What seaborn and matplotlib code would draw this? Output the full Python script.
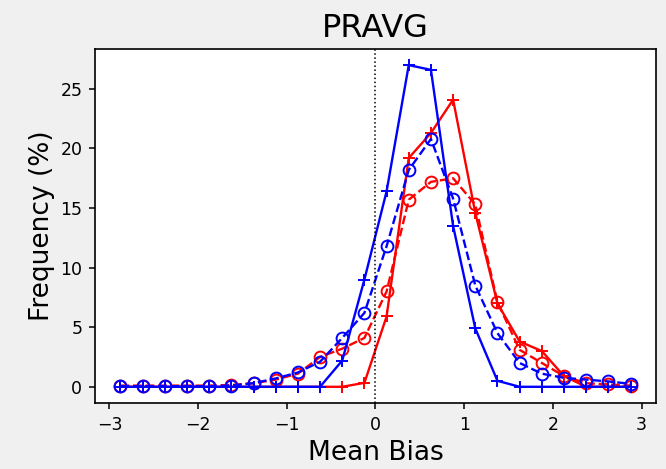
import numpy as np
import pandas as pd
import matplotlib
matplotlib.use('Agg')
import matplotlib.pyplot as plt
import seaborn as sns

# --- data ---
BIAS_BINS = [-2.875, -2.625, -2.375, -2.125, -1.875, -1.625, -1.375, -1.125,
             -0.875, -0.625, -0.375, -0.125, 0.125, 0.375, 0.625, 0.875,
             1.125, 1.375, 1.625, 1.875, 2.125, 2.375, 2.625, 2.875]

blue_solid = [0.0, 0.0, 0.0, 0.0, 0.0, 0.0, 0.0, 0.0,
              0.0, 0.0, 2.2, 9.0, 16.4, 27.0, 26.6, 13.5,
              4.9, 0.5, 0.0, 0.0, 0.0, 0.0, 0.0, 0.0]
blue_dashed = [0.05, 0.05, 0.05, 0.05, 0.05, 0.1, 0.3, 0.7,
               1.2, 2.1, 4.1, 6.2, 11.8, 18.2, 20.8, 15.8,
               8.5, 4.5, 2.0, 1.1, 0.75, 0.6, 0.45, 0.25]
red_solid = [0.0, 0.0, 0.0, 0.0, 0.0, 0.0, 0.0, 0.0,
             0.0, 0.0, 0.0, 0.33, 5.9, 19.2, 21.3, 24.1,
             14.6, 7.0, 3.8, 3.0, 0.9, 0.0, 0.0, 0.0]
red_dashed = [0.1, 0.1, 0.1, 0.1, 0.1, 0.15, 0.3, 0.6,
              1.1, 2.5, 3.2, 4.1, 8.0, 15.7, 17.2, 17.5,
              15.3, 7.1, 3.1, 2.0, 0.9, 0.3, 0.2, 0.1]

TITLE = 'PRAVG'
XLABEL = 'Mean Bias'
YLABEL = 'Frequency (%)'


def draw(ax, y, color, ls, marker):
    sns.lineplot(x=BIAS_BINS, y=y, ax=ax, color=color, linestyle=ls,
                 linewidth=1.7, marker=marker, markersize=8.5,
                 markerfacecolor='none', markeredgecolor=color,
                 markeredgewidth=1.4, sort=False)


fig = plt.figure(figsize=(6.66, 4.69), dpi=100, facecolor='#f0f0f0')
ax = fig.add_axes([0.1426, 0.141, 0.985 - 0.1426, 0.8955 - 0.141])

draw(ax, red_solid, 'red', '-', '+')
draw(ax, red_dashed, 'red', '--', 'o')
draw(ax, blue_solid, 'blue', '-', '+')
draw(ax, blue_dashed, 'blue', '--', 'o')

ax.axvline(0, color='black', linestyle=':', linewidth=1.1)

for sp in ax.spines.values():
    sp.set_linewidth(1.2)

ax.set_xticks([-3, -2, -1, 0, 1, 2, 3])
ax.set_yticks([0, 5, 10, 15, 20, 25])
ax.tick_params(labelsize=12.5, length=4.3, width=1.1)
ax.tick_params(axis='x', pad=5.5)
ax.tick_params(axis='y', pad=4.8)
ax.set_title(TITLE, fontsize=23, pad=9)
ax.set_xlabel(XLABEL, fontsize=19)
ax.set_ylabel(YLABEL, fontsize=19)

fig.savefig('out.png', dpi=100, facecolor=fig.get_facecolor())
